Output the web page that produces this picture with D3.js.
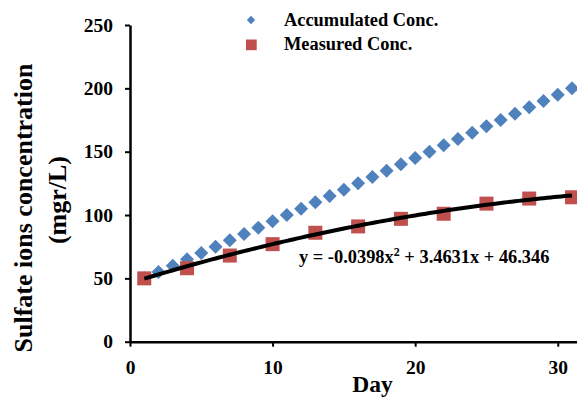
<!DOCTYPE html>
<html><head><meta charset="utf-8">
<script src="https://cdn.jsdelivr.net/npm/d3@7"></script>
<style>body{margin:0;background:#fff;} text{font-family:"Liberation Serif","Times New Roman",serif;font-weight:bold;}</style>
</head><body><svg id="c" width="577" height="405"></svg>
<script>
const accDays = d3.range(1, 32);
const accValues = [50,55,60,65,70,75,80,85,90,95,100,105,110,115,120,125,130,135,140,145,150,155,160,165,170,175,180,185,190,195,200];
const measDays = [1,4,7,10,13,16,19,22,25,28,31];
const measValues = [50,58,68,77,86,91,97,101,109,113,114];
const fitCoef = [-0.0398, 3.4631, 46.346];
const xTicks = [0,10,20,30];
const yTicks = [0,50,100,150,200,250];

const svg = d3.select("#c");
const x = d3.scaleLinear().domain([0, 31.35]).range([130, 577]);
const y = d3.scaleLinear().domain([0, 250]).range([341.7, 25]);

// axes
const xa = svg.append("g").attr("transform","translate(0,341.7)")
  .call(d3.axisBottom(x).tickValues(xTicks).tickSize(5).tickSizeOuter(0).tickPadding(13));
const ya = svg.append("g").attr("transform","translate(130,0)")
  .call(d3.axisLeft(y).tickValues(yTicks).tickSize(5).tickSizeOuter(0).tickPadding(12));
[xa, ya].forEach(a => {
  a.select(".domain").attr("stroke","#000").attr("stroke-width",2.5);
  a.selectAll(".tick line").attr("stroke","#000").attr("stroke-width",2);
  a.selectAll(".tick text").attr("fill","#000").style("font-size","19.5px");
});

// accumulated diamonds
svg.append("g").selectAll("path").data(accDays).join("path")
  .attr("d", d3.symbol(d3.symbolDiamond2, 125)())
  .attr("transform", (d,i) => `translate(${x(d)},${y(accValues[i])})`)
  .attr("fill","#4F81BD");

// measured squares
svg.append("g").selectAll("rect").data(measDays).join("rect")
  .attr("x", d => x(d) - 7).attr("y", (d,i) => y(measValues[i]) - 7)
  .attr("width",14).attr("height",14).attr("fill","#C0504D");

// trendline
const fitX = d3.range(1, 31.01, 0.25);
const f = t => fitCoef[0]*t*t + fitCoef[1]*t + fitCoef[2];
svg.append("path").datum(fitX)
  .attr("d", d3.line().x(d => x(d)).y(d => y(f(d))))
  .attr("fill","none").attr("stroke","#000").attr("stroke-width",4);

// equation
const eq = svg.append("text").attr("x",299).attr("y",262.5).style("font-size","18.4px");
eq.append("tspan").text("y = -0.0398x");
eq.append("tspan").attr("dy",-7).style("font-size","12px").text("2");
eq.append("tspan").attr("dy",7).text(" + 3.4631x + 46.346");

// legend
svg.append("path").attr("d", d3.symbol(d3.symbolDiamond2, 45)()).attr("transform","translate(251,20)").attr("fill","#4F81BD");
svg.append("text").attr("x",284).attr("y",25.7).style("font-size","18.4px").text("Accumulated Conc.");
svg.append("rect").attr("x",246).attr("y",39.5).attr("width",10.7).attr("height",10.7).attr("fill","#C0504D");
svg.append("text").attr("x",284).attr("y",50).style("font-size","18.4px").text("Measured Conc.");

// axis titles
svg.append("text").attr("x",372.5).attr("y",392).attr("text-anchor","middle").style("font-size","23.5px").text("Day");
svg.append("text").attr("transform","translate(32,208) rotate(-90)").attr("text-anchor","middle").style("font-size","26px").text("Sulfate ions concentration");
svg.append("text").attr("transform","translate(66,200) rotate(-90)").attr("text-anchor","middle").style("font-size","26px").text("(mgr/L)");
</script></body></html>
